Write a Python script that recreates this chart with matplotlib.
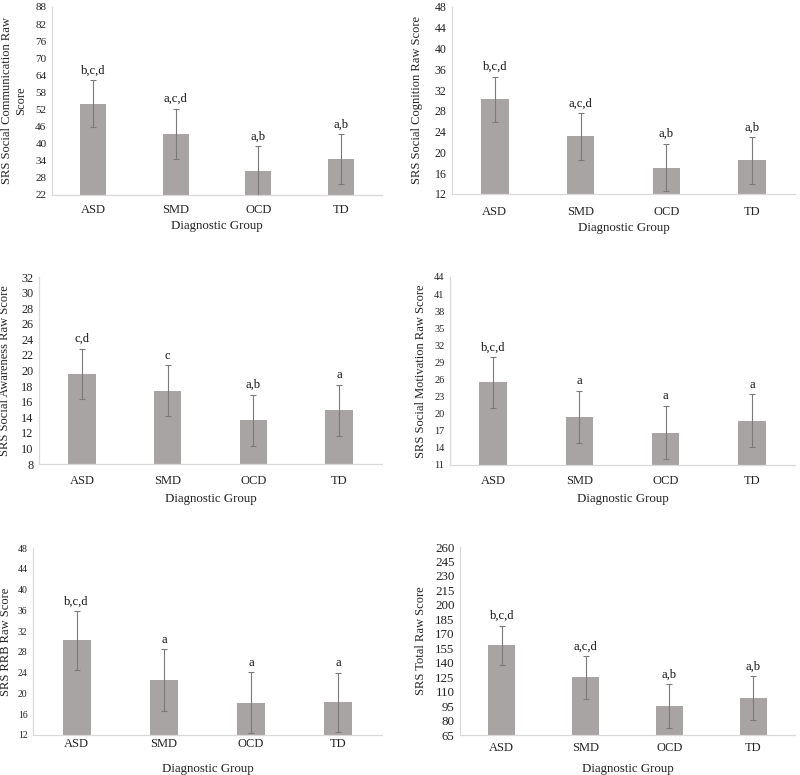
import matplotlib
matplotlib.use("Agg")
import matplotlib.pyplot as plt
import numpy as np

plt.rcParams['font.family'] = ['Liberation Serif', 'DejaVu Serif']

groups = ['ASD', 'SMD', 'OCD', 'TD']

comm_mean = [54.0, 43.5, 30.5, 34.5]
comm_sd = [8.2, 8.8, 8.8, 8.8]
comm_sig = ['b,c,d', 'a,c,d', 'a,b', 'a,b']
comm_ticks = list(range(22, 89, 6))

cog_mean = [30.2, 23.1, 17.1, 18.5]
cog_sd = [4.4, 4.5, 4.6, 4.5]
cog_sig = ['b,c,d', 'a,c,d', 'a,b', 'a,b']
cog_ticks = list(range(12, 49, 4))

aware_mean = [19.6, 17.4, 13.6, 14.9]
aware_sd = [3.2, 3.3, 3.3, 3.3]
aware_sig = ['c,d', 'c', 'a,b', 'a']
aware_ticks = list(range(8, 33, 2))

motiv_mean = [25.5, 19.4, 16.7, 18.8]
motiv_sd = [4.5, 4.6, 4.7, 4.6]
motiv_sig = ['b,c,d', 'a', 'a', 'a']
motiv_ticks = list(range(11, 45, 3))

rrb_mean = [30.2, 22.6, 18.2, 18.3]
rrb_sd = [5.7, 5.9, 5.9, 5.7]
rrb_sig = ['b,c,d', 'a', 'a', 'a']
rrb_ticks = list(range(12, 49, 4))

total_mean = [158.0, 125.0, 95.0, 103.5]
total_sd = [20.5, 22.2, 23.0, 22.7]
total_sig = ['b,c,d', 'a,c,d', 'a,b', 'a,b']
total_ticks = list(range(65, 261, 15))

W, H = 800, 775
fig = plt.figure(figsize=(W / 100, H / 100), dpi=100)

BAR = '#A8A4A4'
ERR = '#7A7A7A'
SPINE = '#D9D9D9'

panels = [
    dict(box=(52, 382, 7, 195), mean=comm_mean, sd=comm_sd, sig=comm_sig, ticks=comm_ticks,
         ylabel='SRS Social Communication Raw\nScore', ylx=27, yts=8.0, xpad=9, xl=25),
    dict(box=(452, 795, 7, 194), mean=cog_mean, sd=cog_sd, sig=cog_sig, ticks=cog_ticks,
         ylabel='SRS Social Cognition Raw Score', ylx=423, yts=8.6, xpad=12, xl=28),
    dict(box=(39, 382, 277, 464), mean=aware_mean, sd=aware_sd, sig=aware_sig, ticks=aware_ticks,
         ylabel='SRS Social Awareness Raw Score', ylx=11, yts=8.8, xpad=11, xl=29),
    dict(box=(450, 795, 277, 465), mean=motiv_mean, sd=motiv_sd, sig=motiv_sig, ticks=motiv_ticks,
         ylabel='SRS Social Motivation Raw Score', ylx=427, yts=7.5, xpad=10, xl=28),
    dict(box=(33, 382, 548, 735), mean=rrb_mean, sd=rrb_sd, sig=rrb_sig, ticks=rrb_ticks,
         ylabel='SRS RRB Raw Score', ylx=12, yts=7.0, xpad=3, xl=28),
    dict(box=(460, 795, 547, 735), mean=total_mean, sd=total_sd, sig=total_sig, ticks=total_ticks,
         ylabel='SRS Total Raw Score', ylx=427, yts=9.4, xpad=7, xl=28),
]

for p in panels:
    l, r, t, b = p['box']
    ax = fig.add_axes([l / W, 1 - b / H, (r - l) / W, (b - t) / H])
    x = np.arange(len(groups))
    ax.bar(x, p['mean'], width=0.32, color=BAR, zorder=2)
    ax.errorbar(x, p['mean'], yerr=p['sd'], fmt='none', ecolor=ERR, elinewidth=0.8,
                capsize=2.5, capthick=0.8, zorder=3)
    for xi, m, s, lab in zip(x, p['mean'], p['sd'], p['sig']):
        ax.annotate(lab, (xi, m + s), xytext=(0, 2.5), textcoords='offset points',
                    ha='center', va='bottom', fontsize=9, color='#111111')
    ax.set_xlim(-0.5, 3.5)
    ax.set_ylim(p['ticks'][0], p['ticks'][-1])
    ax.set_yticks(p['ticks'])
    ax.set_xticks(x)
    ax.set_xticklabels(groups)
    for s in ['top', 'right']:
        ax.spines[s].set_visible(False)
    for s in ['left', 'bottom']:
        ax.spines[s].set_color(SPINE)
        ax.spines[s].set_linewidth(0.9)
    ax.tick_params(axis='both', length=0, colors='#222222')
    ax.tick_params(axis='y', labelsize=p['yts'], pad=4)
    ax.tick_params(axis='x', labelsize=9, pad=p['xpad'] * 0.72)
    ax.set_xlabel('Diagnostic Group', fontsize=9.3, color='#222222', va='top')
    ax.xaxis.set_label_coords(0.5, -p['xl'] / (b - t))
    ax.set_ylabel(p['ylabel'], fontsize=9, color='#222222')
    ax.yaxis.set_label_coords((p['ylx'] - l) / (r - l), 0.5)

fig.savefig('out.png', dpi=100)
